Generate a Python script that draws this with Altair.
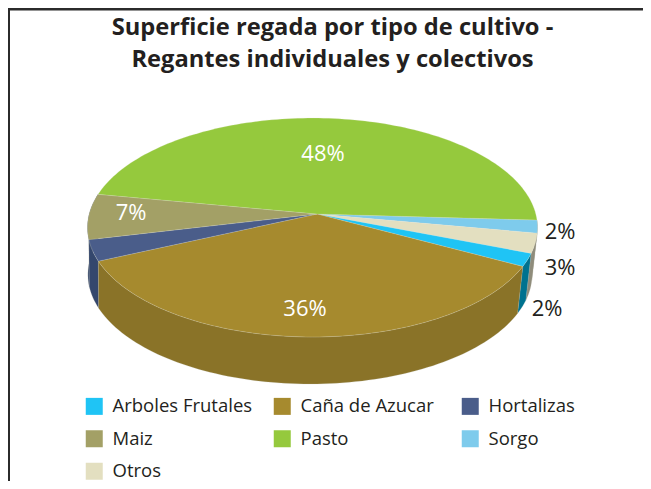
import math
import altair as alt

# ---- data
names = ["Sorgo", "Otros", "Arboles Frutales", "Caña de Azucar", "Hortalizas", "Maiz", "Pasto"]
shares = [1.9, 2.9, 1.9, 35.6, 3.1, 6.7, 47.9]
legend_order = ["Arboles Frutales", "Caña de Azucar", "Hortalizas", "Maiz", "Pasto", "Sorgo", "Otros"]
legend_colors = ["#1fc4f5", "#a68a2e", "#4a5d8a", "#a3a066", "#95c93d", "#7ecbec", "#e3dfc0"]
wall_colors = {"Sorgo": "#8f8c7b", "Otros": "#8f8c7b", "Arboles Frutales": "#00728f",
               "Caña de Azucar": "#8a7328", "Hortalizas": "#34476d", "Maiz": "#34476d"}
title_lines = ["Superficie regada por tipo de cultivo -", "Regantes individuales y colectivos"]
inside_labels = ["48%", "36%", "7%"]
outside_labels = ["2%", "3%", "2%"]

# ---- layout (page pixels)
inside_x, inside_y = [323, 305, 131], [154, 309, 213]
outside_x, outside_y = [560, 560, 547], [232, 268, 309]
START = 3.2
K, B = -0.1233, 107.8
APEX = [317.0, 214.0]
TOP = (312.5, 214.0, 223.3)
BOTTOM = (310.0, 261.0, 220.4)
FONT = "Open Sans"
INK = "#231f20"
W, H = 635, 473


def rim(deg, lens):
    u, v = math.cos(math.radians(deg)), math.sin(math.radians(deg))
    w = 1 + K * v
    return [lens[0] + lens[2] * u / w, lens[1] + B * v / w]


def arc(a0, a1, lens):
    n = max(2, int(abs(a1 - a0) / 1.5) + 1)
    return [rim(a0 + (a1 - a0) * i / n, lens) for i in range(n + 1)]


def feature(ring, name, shade=None):
    ring = ring + [ring[0]]
    return {"type": "Feature", "geometry": {"type": "Polygon", "coordinates": [ring]},
            "properties": {"name": name, "shade": shade}}


total = sum(shares)
top_features, wall_features = [], {}
angle = START
for name, share in zip(names, shares):
    end = angle + share / total * 360
    top_features.append(feature([APEX] + arc(angle, end, TOP), name))
    if name in wall_colors:
        wall_features[name] = feature(arc(angle, end, TOP) + arc(end, angle, BOTTOM), name, wall_colors[name])
    angle = end

wall_order = ["Maiz", "Sorgo", "Otros", "Arboles Frutales", "Hortalizas", "Caña de Azucar"]
projection = dict(type="identity", scale=1, translate=[-8, -8])

walls = alt.Chart(alt.Data(values=[wall_features[n] for n in wall_order])).mark_geoshape(
    stroke="#b9b9a8", strokeWidth=0.2
).encode(fill=alt.Fill("properties.shade:N", scale=None, legend=None)).project(**projection)

tops = alt.Chart(alt.Data(values=top_features)).mark_geoshape(
    stroke="#e8e8d8", strokeWidth=0.2
).encode(
    color=alt.Color(
        "properties.name:N",
        scale=alt.Scale(domain=legend_order, range=legend_colors),
        legend=alt.Legend(
            title=None, orient="none", legendX=77, legendY=389, columns=3, direction="horizontal",
            symbolType="square", symbolSize=289, symbolStrokeWidth=0, symbolOpacity=1,
            labelFont=FONT, labelFontSize=18.5, labelColor=INK, labelOffset=9, labelLimit=300,
            rowPadding=13.5, columnPadding=20, gridAlign="all", padding=0,
        ),
    )
).project(**projection)


def labels(texts, xs, ys, colour):
    rows = [{"label": t, "px": x, "py": y} for t, x, y in zip(texts, xs, ys)]
    return alt.Chart(alt.Data(values=rows)).mark_text(
        font=FONT, fontSize=22, color=colour, align="center", baseline="middle"
    ).encode(longitude="px:Q", latitude="py:Q", text="label:N").project(**projection)


frame_top = alt.Chart(alt.Data(values=[{"a": 0}])).mark_rule(color="#2b2b2b", strokeWidth=2.5).encode(
    x=alt.value(0), x2=alt.value(W), y=alt.value(1.2))
frame_left = alt.Chart(alt.Data(values=[{"a": 0}])).mark_rule(color="#2b2b2b", strokeWidth=2).encode(
    x=alt.value(1), y=alt.value(0), y2=alt.value(H))

chart = alt.layer(
    walls, tops,
    labels(inside_labels, inside_x, inside_y, "#ffffff"),
    labels(outside_labels, outside_x, outside_y, INK),
    frame_top, frame_left,
).properties(
    width=W, height=H,
    padding=0,
    autosize=alt.AutoSizeParams(type="none"),
    title=alt.TitleParams(
        text=title_lines, font=FONT, fontSize=23.7, fontWeight="bold", color=INK,
        anchor="middle", frame="group", lineHeight=32, dy=69, dx=7,
    ),
).configure_view(stroke=None)

chart.save("out.html", embed_options={"renderer": "svg", "actions": False})
